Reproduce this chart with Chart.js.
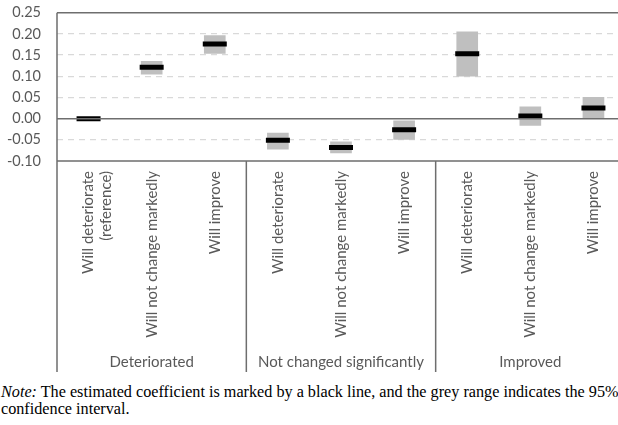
<!DOCTYPE html>
<html>
<head>
<meta charset="utf-8">
<script src="https://cdn.jsdelivr.net/npm/chart.js@4/dist/chart.umd.min.js"></script>
<style>
  html, body { margin: 0; padding: 0; background: #fff; overflow: hidden; width: 618px; height: 425px; }
  #wrap { position: absolute; left: 0; top: -12px; width: 642px; height: 390px; }
  #note { position: absolute; left: 1px; top: 384px; width: 660px; font-family: "Liberation Serif", serif; font-size: 16.2px; line-height: 17px; color: #000; white-space: nowrap; }
</style>
</head>
<body>
<div id="wrap"><canvas id="chart" width="642" height="390"></canvas></div>
<div id="note"><i>Note:</i> The estimated coefficient is marked by a black line, and the grey range indicates the 95%<br>confidence interval.</div>
<script>
(function(){
    const categories = [
        ['Will deteriorate', '(reference)'],
        'Will not change markedly',
        'Will improve',
        'Will deteriorate',
        'Will not change markedly',
        'Will improve',
        'Will deteriorate',
        'Will not change markedly',
        'Will improve'
    ];
    const groups = ['Deteriorated', 'Not changed significantly', 'Improved'];
    const estimates = [0.000, 0.121, 0.176, -0.051, -0.068, -0.026, 0.153, 0.006, 0.025];
    const ciLow  = [null, 0.105, 0.154, -0.072, -0.081, -0.049, 0.100, -0.016, 0.002];
    const ciHigh = [null, 0.135, 0.196, -0.034, -0.055, -0.005, 0.205, 0.028, 0.050];

    const axisColor = '#6e6e6e';
    const textColor = '#595959';
    const font = '"Lato", "Open Sans", sans-serif';

    const ranges = ciLow.map((lo, i) => lo === null ? null : [lo, ciHigh[i]]);

    // frame, zero line, group separators and group names
    const framePlugin = {
        id: 'frame',
        afterDraw(chart) {
            const ctx = chart.ctx;
            const x = chart.scales.x, y = chart.scales.y;
            const area = chart.chartArea;
            const bottom = area.bottom + 211;
            const per = categories.length / groups.length;
            ctx.save();
            ctx.strokeStyle = axisColor;
            ctx.lineWidth = 1.5;
            ctx.beginPath();
            [0.25, 0, -0.10].forEach(v => {
                const py = y.getPixelForValue(v);
                ctx.moveTo(area.left, py);
                ctx.lineTo(area.right, py);
            });
            ctx.moveTo(area.left, y.getPixelForValue(0.25));
            ctx.lineTo(area.left, bottom);
            for (let g = 1; g < groups.length; g++) {
                const px = (x.getPixelForValue(g * per - 1) + x.getPixelForValue(g * per)) / 2;
                ctx.moveTo(px, y.getPixelForValue(-0.10));
                ctx.lineTo(px, bottom);
            }
            ctx.stroke();
            ctx.fillStyle = textColor;
            ctx.font = '15px ' + font;
            ctx.textAlign = 'center';
            ctx.textBaseline = 'middle';
            groups.forEach((name, g) => {
                const px = x.getPixelForValue(g * per + (per - 1) / 2);
                ctx.fillText(name, px, bottom - 10);
            });
            ctx.restore();
        }
    };

    new Chart(document.getElementById('chart'), {
        data: {
            labels: categories,
            datasets: [
                {
                    type: 'line',
                    data: estimates,
                    showLine: false,
                    pointStyle: 'line',
                    pointRadius: 12,
                    pointBorderWidth: 5,
                    pointBorderColor: '#000',
                    pointBackgroundColor: '#000',
                    order: 0
                },
                {
                    type: 'bar',
                    data: ranges,
                    backgroundColor: '#bfbfbf',
                    borderWidth: 0,
                    barThickness: 21,
                    order: 1
                }
            ]
        },
        options: {
            responsive: false,
            animation: false,
            layout: { padding: { top: 0, bottom: 6, right: 3, left: 0 } },
            plugins: { legend: { display: false }, tooltip: { enabled: false } },
            scales: {
                x: {
                    grid: { display: false, drawTicks: false },
                    border: { display: false },
                    ticks: {
                        autoSkip: false,
                        maxRotation: 90,
                        minRotation: 90,
                        padding: 10,
                        color: textColor,
                        font: { family: font, size: 15 }
                    },
                    afterFit(scale) { scale.height = 211; }
                },
                y: {
                    min: -0.10,
                    max: 0.25,
                    grid: {
                        drawTicks: false,
                        color: ctx => {
                            const v = Math.round(ctx.tick.value * 100);
                            return (v === 0 || v === 25 || v === -10) ? 'rgba(0,0,0,0)' : '#d9d9d9';
                        },
                        lineWidth: 1.3
                    },
                    border: { display: false, dash: [6, 5] },
                    ticks: {
                        stepSize: 0.05,
                        autoSkip: false,
                        maxTicksLimit: 20,
                        padding: 16,
                        color: textColor,
                        font: { family: font, size: 14.5 },
                        callback: v => (Math.abs(v) < 1e-9 ? 0 : v).toFixed(2)
                    },
                    afterFit(scale) { scale.width = 57; }
                }
            }
        },
        plugins: [framePlugin]
    });
})();
</script>
</body>
</html>
